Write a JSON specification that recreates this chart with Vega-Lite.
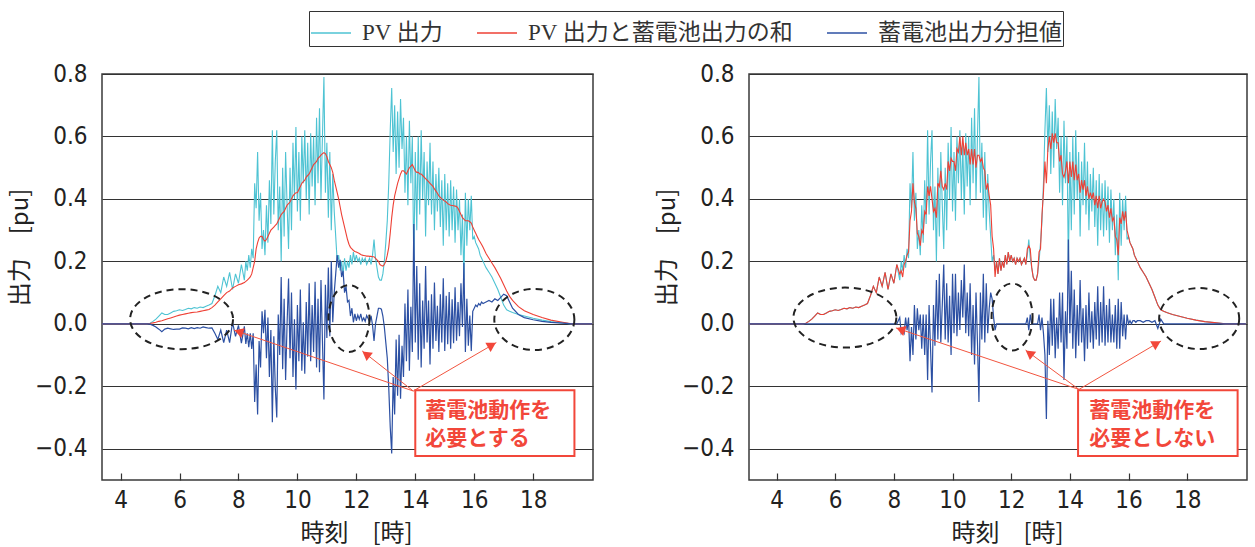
{
"$schema": "https://vega.github.io/schema/vega-lite/v6.json",
"padding": {"left": 7, "top": 10, "right": 2, "bottom": 0},
"background": "white",
"config": {
  "font": "Noto Sans CJK JP",
  "view": {"stroke": "#3a3a3a", "strokeWidth": 1.5},
  "axis": {"labelFont": "DejaVu Sans Condensed, Liberation Sans Narrow, sans-serif", "labelFontSize": 24, "labelColor": "#222", "titleFont": "Noto Sans CJK JP", "titleFontSize": 24, "titleFontWeight": "normal", "titleColor": "#222", "domain": false, "gridColor": "#333", "gridWidth": 1.2, "gridOpacity": 1}
},
"datasets": {
"d": [
{"t":3.0,"pv":0,"sA":0,"bA":0,"sB":0,"bB":0},
{"t":4.9,"pv":0,"sA":0,"bA":0,"sB":0,"bB":0},
{"t":5.0,"pv":0.002,"sA":0.001,"bA":-0.001,"sB":0.002,"bB":0},
{"t":5.1,"pv":0.008,"sA":0.003,"bA":-0.005,"sB":0.008,"bB":0},
{"t":5.2,"pv":0.015,"sA":0.005,"bA":-0.01,"sB":0.015,"bB":0},
{"t":5.3,"pv":0.025,"sA":0.008,"bA":-0.017,"sB":0.025,"bB":0},
{"t":5.4,"pv":0.035,"sA":0.01,"bA":-0.025,"sB":0.035,"bB":0},
{"t":5.5,"pv":0.03,"sA":0.013,"bA":-0.017,"sB":0.03,"bB":0},
{"t":5.6,"pv":0.03,"sA":0.016,"bA":-0.014,"sB":0.03,"bB":0},
{"t":5.7,"pv":0.035,"sA":0.019,"bA":-0.016,"sB":0.035,"bB":0},
{"t":5.8,"pv":0.04,"sA":0.022,"bA":-0.018,"sB":0.04,"bB":0},
{"t":5.9,"pv":0.042,"sA":0.025,"bA":-0.017,"sB":0.042,"bB":0},
{"t":6.0,"pv":0.045,"sA":0.028,"bA":-0.017,"sB":0.045,"bB":0},
{"t":6.1,"pv":0.043,"sA":0.03,"bA":-0.013,"sB":0.043,"bB":0},
{"t":6.2,"pv":0.046,"sA":0.032,"bA":-0.014,"sB":0.046,"bB":0},
{"t":6.3,"pv":0.05,"sA":0.034,"bA":-0.016,"sB":0.05,"bB":0},
{"t":6.4,"pv":0.048,"sA":0.036,"bA":-0.012,"sB":0.048,"bB":0},
{"t":6.5,"pv":0.052,"sA":0.037,"bA":-0.015,"sB":0.052,"bB":0},
{"t":6.6,"pv":0.05,"sA":0.038,"bA":-0.012,"sB":0.05,"bB":0},
{"t":6.7,"pv":0.054,"sA":0.04,"bA":-0.014,"sB":0.054,"bB":0},
{"t":6.8,"pv":0.052,"sA":0.042,"bA":-0.01,"sB":0.052,"bB":0},
{"t":6.9,"pv":0.056,"sA":0.044,"bA":-0.012,"sB":0.056,"bB":0},
{"t":7.0,"pv":0.06,"sA":0.046,"bA":-0.014,"sB":0.06,"bB":0},
{"t":7.1,"pv":0.065,"sA":0.052,"bA":-0.013,"sB":0.065,"bB":0},
{"t":7.2,"pv":0.09,"sA":0.06,"bA":-0.03,"sB":0.09,"bB":0},
{"t":7.3,"pv":0.12,"sA":0.07,"bA":-0.05,"sB":0.12,"bB":0},
{"t":7.4,"pv":0.10,"sA":0.08,"bA":-0.02,"sB":0.10,"bB":0},
{"t":7.5,"pv":0.15,"sA":0.09,"bA":-0.06,"sB":0.15,"bB":0},
{"t":7.6,"pv":0.12,"sA":0.10,"bA":-0.02,"sB":0.12,"bB":0},
{"t":7.7,"pv":0.165,"sA":0.105,"bA":-0.06,"sB":0.165,"bB":0},
{"t":7.8,"pv":0.11,"sA":0.115,"bA":0.005,"sB":0.11,"bB":0},
{"t":7.9,"pv":0.16,"sA":0.12,"bA":-0.04,"sB":0.16,"bB":0},
{"t":8.0,"pv":0.13,"sA":0.125,"bA":-0.005,"sB":0.13,"bB":0},
{"t":8.1,"pv":0.19,"sA":0.128,"bA":-0.062,"sB":0.19,"bB":0},
{"t":8.2,"pv":0.14,"sA":0.132,"bA":-0.008,"sB":0.16,"bB":0.02},
{"t":8.25,"pv":0.20,"sA":0.136,"bA":-0.064,"sB":0.17,"bB":-0.03},
{"t":8.30,"pv":0.17,"sA":0.14,"bA":-0.03,"sB":0.15,"bB":-0.02},
{"t":8.35,"pv":0.22,"sA":0.145,"bA":-0.075,"sB":0.19,"bB":-0.03},
{"t":8.40,"pv":0.18,"sA":0.15,"bA":-0.03,"sB":0.20,"bB":0.02},
{"t":8.45,"pv":0.24,"sA":0.16,"bA":-0.08,"sB":0.22,"bB":-0.02},
{"t":8.50,"pv":0.21,"sA":0.18,"bA":-0.03,"sB":0.23,"bB":0.02},
{"t":8.55,"pv":0.45,"sA":0.20,"bA":-0.25,"sB":0.33,"bB":-0.12},
{"t":8.60,"pv":0.37,"sA":0.24,"bA":-0.13,"sB":0.36,"bB":-0.01},
{"t":8.65,"pv":0.55,"sA":0.26,"bA":-0.29,"sB":0.45,"bB":-0.10},
{"t":8.70,"pv":0.33,"sA":0.275,"bA":-0.055,"sB":0.39,"bB":0.06},
{"t":8.75,"pv":0.42,"sA":0.28,"bA":-0.14,"sB":0.37,"bB":-0.05},
{"t":8.80,"pv":0.24,"sA":0.28,"bA":0.04,"sB":0.29,"bB":0.05},
{"t":8.85,"pv":0.30,"sA":0.27,"bA":-0.03,"sB":0.28,"bB":-0.02},
{"t":8.90,"pv":0.22,"sA":0.265,"bA":0.045,"sB":0.25,"bB":0.03},
{"t":8.95,"pv":0.38,"sA":0.27,"bA":-0.11,"sB":0.30,"bB":-0.08},
{"t":9.00,"pv":0.26,"sA":0.28,"bA":0.02,"sB":0.29,"bB":0.03},
{"t":9.05,"pv":0.46,"sA":0.29,"bA":-0.17,"sB":0.36,"bB":-0.10},
{"t":9.10,"pv":0.32,"sA":0.30,"bA":-0.02,"sB":0.35,"bB":0.03},
{"t":9.15,"pv":0.62,"sA":0.305,"bA":-0.315,"sB":0.44,"bB":-0.18},
{"t":9.20,"pv":0.35,"sA":0.31,"bA":-0.04,"sB":0.41,"bB":0.06},
{"t":9.25,"pv":0.52,"sA":0.315,"bA":-0.205,"sB":0.44,"bB":-0.08},
{"t":9.30,"pv":0.62,"sA":0.32,"bA":-0.30,"sB":0.40,"bB":-0.22},
{"t":9.35,"pv":0.30,"sA":0.33,"bA":0.03,"sB":0.36,"bB":0.06},
{"t":9.40,"pv":0.44,"sA":0.34,"bA":-0.10,"sB":0.37,"bB":-0.07},
{"t":9.45,"pv":0.20,"sA":0.35,"bA":0.15,"sB":0.34,"bB":0.14},
{"t":9.50,"pv":0.50,"sA":0.355,"bA":-0.145,"sB":0.45,"bB":-0.05},
{"t":9.55,"pv":0.28,"sA":0.36,"bA":0.08,"sB":0.44,"bB":0.16},
{"t":9.60,"pv":0.55,"sA":0.37,"bA":-0.18,"sB":0.49,"bB":-0.06},
{"t":9.65,"pv":0.38,"sA":0.38,"bA":0.0,"sB":0.44,"bB":0.06},
{"t":9.70,"pv":0.24,"sA":0.385,"bA":0.145,"sB":0.43,"bB":0.19},
{"t":9.75,"pv":0.50,"sA":0.39,"bA":-0.11,"sB":0.45,"bB":-0.05},
{"t":9.80,"pv":0.30,"sA":0.40,"bA":0.10,"sB":0.43,"bB":0.13},
{"t":9.85,"pv":0.58,"sA":0.41,"bA":-0.17,"sB":0.52,"bB":-0.06},
{"t":9.90,"pv":0.40,"sA":0.415,"bA":0.015,"sB":0.49,"bB":0.09},
{"t":9.95,"pv":0.63,"sA":0.42,"bA":-0.21,"sB":0.53,"bB":-0.10},
{"t":10.00,"pv":0.36,"sA":0.42,"bA":0.06,"sB":0.52,"bB":0.16},
{"t":10.05,"pv":0.55,"sA":0.43,"bA":-0.12,"sB":0.52,"bB":-0.03},
{"t":10.10,"pv":0.33,"sA":0.44,"bA":0.11,"sB":0.49,"bB":0.16},
{"t":10.15,"pv":0.60,"sA":0.45,"bA":-0.15,"sB":0.56,"bB":-0.04},
{"t":10.20,"pv":0.45,"sA":0.455,"bA":0.005,"sB":0.55,"bB":0.10},
{"t":10.25,"pv":0.62,"sA":0.46,"bA":-0.16,"sB":0.60,"bB":-0.02},
{"t":10.30,"pv":0.40,"sA":0.47,"bA":0.07,"sB":0.54,"bB":0.14},
{"t":10.35,"pv":0.58,"sA":0.475,"bA":-0.105,"sB":0.60,"bB":0.02},
{"t":10.40,"pv":0.35,"sA":0.48,"bA":0.13,"sB":0.54,"bB":0.19},
{"t":10.45,"pv":0.61,"sA":0.49,"bA":-0.12,"sB":0.58,"bB":-0.03},
{"t":10.50,"pv":0.44,"sA":0.50,"bA":0.06,"sB":0.54,"bB":0.10},
{"t":10.55,"pv":0.60,"sA":0.51,"bA":-0.09,"sB":0.56,"bB":-0.04},
{"t":10.60,"pv":0.38,"sA":0.515,"bA":0.135,"sB":0.51,"bB":0.13},
{"t":10.65,"pv":0.66,"sA":0.52,"bA":-0.14,"sB":0.56,"bB":-0.10},
{"t":10.70,"pv":0.45,"sA":0.53,"bA":0.08,"sB":0.51,"bB":0.06},
{"t":10.75,"pv":0.69,"sA":0.535,"bA":-0.155,"sB":0.56,"bB":-0.13},
{"t":10.80,"pv":0.40,"sA":0.54,"bA":0.14,"sB":0.50,"bB":0.10},
{"t":10.85,"pv":0.60,"sA":0.545,"bA":-0.055,"sB":0.54,"bB":-0.06},
{"t":10.90,"pv":0.79,"sA":0.548,"bA":-0.242,"sB":0.54,"bB":-0.25},
{"t":10.95,"pv":0.42,"sA":0.545,"bA":0.125,"sB":0.52,"bB":0.10},
{"t":11.00,"pv":0.58,"sA":0.535,"bA":-0.045,"sB":0.53,"bB":-0.05},
{"t":11.05,"pv":0.34,"sA":0.52,"bA":0.18,"sB":0.50,"bB":0.16},
{"t":11.10,"pv":0.55,"sA":0.51,"bA":-0.04,"sB":0.49,"bB":-0.06},
{"t":11.15,"pv":0.30,"sA":0.50,"bA":0.20,"sB":0.43,"bB":0.13},
{"t":11.20,"pv":0.48,"sA":0.485,"bA":0.005,"sB":0.45,"bB":-0.03},
{"t":11.25,"pv":0.36,"sA":0.46,"bA":0.10,"sB":0.41,"bB":0.05},
{"t":11.30,"pv":0.28,"sA":0.44,"bA":0.16,"sB":0.38,"bB":0.10},
{"t":11.35,"pv":0.20,"sA":0.42,"bA":0.22,"sB":0.28,"bB":0.08},
{"t":11.40,"pv":0.22,"sA":0.40,"bA":0.18,"sB":0.24,"bB":0.02},
{"t":11.45,"pv":0.17,"sA":0.375,"bA":0.205,"sB":0.15,"bB":-0.02},
{"t":11.50,"pv":0.20,"sA":0.35,"bA":0.15,"sB":0.20,"bB":0},
{"t":11.55,"pv":0.16,"sA":0.33,"bA":0.17,"sB":0.16,"bB":0},
{"t":11.60,"pv":0.21,"sA":0.31,"bA":0.10,"sB":0.21,"bB":0},
{"t":11.65,"pv":0.17,"sA":0.29,"bA":0.12,"sB":0.17,"bB":0},
{"t":11.70,"pv":0.20,"sA":0.27,"bA":0.07,"sB":0.20,"bB":0},
{"t":11.75,"pv":0.18,"sA":0.255,"bA":0.075,"sB":0.18,"bB":0},
{"t":11.80,"pv":0.22,"sA":0.245,"bA":0.025,"sB":0.22,"bB":0},
{"t":11.85,"pv":0.19,"sA":0.24,"bA":0.05,"sB":0.19,"bB":0},
{"t":11.90,"pv":0.23,"sA":0.235,"bA":0.005,"sB":0.23,"bB":0},
{"t":11.95,"pv":0.20,"sA":0.232,"bA":0.032,"sB":0.20,"bB":0},
{"t":12.00,"pv":0.22,"sA":0.23,"bA":0.01,"sB":0.22,"bB":0},
{"t":12.05,"pv":0.20,"sA":0.228,"bA":0.028,"sB":0.20,"bB":0},
{"t":12.10,"pv":0.21,"sA":0.225,"bA":0.015,"sB":0.21,"bB":0},
{"t":12.15,"pv":0.19,"sA":0.222,"bA":0.032,"sB":0.19,"bB":0},
{"t":12.20,"pv":0.21,"sA":0.22,"bA":0.01,"sB":0.21,"bB":0},
{"t":12.25,"pv":0.20,"sA":0.219,"bA":0.019,"sB":0.20,"bB":0},
{"t":12.30,"pv":0.21,"sA":0.218,"bA":0.008,"sB":0.21,"bB":0},
{"t":12.35,"pv":0.19,"sA":0.217,"bA":0.027,"sB":0.19,"bB":0},
{"t":12.40,"pv":0.20,"sA":0.217,"bA":0.017,"sB":0.20,"bB":0},
{"t":12.45,"pv":0.21,"sA":0.216,"bA":0.006,"sB":0.21,"bB":0},
{"t":12.50,"pv":0.19,"sA":0.216,"bA":0.026,"sB":0.19,"bB":0},
{"t":12.55,"pv":0.22,"sA":0.215,"bA":-0.005,"sB":0.24,"bB":0.02},
{"t":12.60,"pv":0.27,"sA":0.215,"bA":-0.055,"sB":0.25,"bB":-0.02},
{"t":12.65,"pv":0.21,"sA":0.21,"bA":0.0,"sB":0.24,"bB":0.03},
{"t":12.70,"pv":0.18,"sA":0.205,"bA":0.025,"sB":0.18,"bB":0},
{"t":12.75,"pv":0.15,"sA":0.20,"bA":0.05,"sB":0.15,"bB":0},
{"t":12.80,"pv":0.14,"sA":0.19,"bA":0.05,"sB":0.14,"bB":0},
{"t":12.85,"pv":0.14,"sA":0.187,"bA":0.047,"sB":0.14,"bB":0},
{"t":12.90,"pv":0.16,"sA":0.185,"bA":0.025,"sB":0.16,"bB":0},
{"t":12.95,"pv":0.20,"sA":0.19,"bA":-0.01,"sB":0.23,"bB":0.03},
{"t":13.00,"pv":0.26,"sA":0.20,"bA":-0.06,"sB":0.24,"bB":-0.02},
{"t":13.05,"pv":0.33,"sA":0.22,"bA":-0.11,"sB":0.35,"bB":0.02},
{"t":13.10,"pv":0.45,"sA":0.245,"bA":-0.205,"sB":0.42,"bB":-0.03},
{"t":13.15,"pv":0.62,"sA":0.29,"bA":-0.33,"sB":0.52,"bB":-0.10},
{"t":13.20,"pv":0.755,"sA":0.34,"bA":-0.415,"sB":0.45,"bB":-0.305},
{"t":13.25,"pv":0.55,"sA":0.38,"bA":-0.17,"sB":0.56,"bB":0.01},
{"t":13.30,"pv":0.70,"sA":0.41,"bA":-0.29,"sB":0.60,"bB":-0.10},
{"t":13.35,"pv":0.48,"sA":0.43,"bA":-0.05,"sB":0.56,"bB":0.08},
{"t":13.40,"pv":0.68,"sA":0.45,"bA":-0.23,"sB":0.61,"bB":-0.07},
{"t":13.45,"pv":0.50,"sA":0.465,"bA":-0.035,"sB":0.58,"bB":0.08},
{"t":13.50,"pv":0.72,"sA":0.48,"bA":-0.24,"sB":0.61,"bB":-0.11},
{"t":13.55,"pv":0.56,"sA":0.49,"bA":-0.07,"sB":0.58,"bB":0.02},
{"t":13.60,"pv":0.66,"sA":0.49,"bA":-0.17,"sB":0.58,"bB":-0.08},
{"t":13.65,"pv":0.42,"sA":0.485,"bA":0.065,"sB":0.52,"bB":0.10},
{"t":13.70,"pv":0.60,"sA":0.48,"bA":-0.12,"sB":0.54,"bB":-0.06},
{"t":13.75,"pv":0.38,"sA":0.49,"bA":0.11,"sB":0.48,"bB":0.10},
{"t":13.80,"pv":0.65,"sA":0.50,"bA":-0.15,"sB":0.47,"bB":-0.18},
{"t":13.85,"pv":0.45,"sA":0.505,"bA":0.055,"sB":0.49,"bB":0.04},
{"t":13.90,"pv":0.60,"sA":0.51,"bA":-0.09,"sB":0.52,"bB":-0.08},
{"t":13.95,"pv":0.18,"sA":0.50,"bA":0.32,"sB":0.45,"bB":0.27},
{"t":14.00,"pv":0.55,"sA":0.49,"bA":-0.06,"sB":0.52,"bB":-0.03},
{"t":14.05,"pv":0.30,"sA":0.485,"bA":0.185,"sB":0.47,"bB":0.17},
{"t":14.10,"pv":0.60,"sA":0.485,"bA":-0.115,"sB":0.52,"bB":-0.08},
{"t":14.15,"pv":0.35,"sA":0.48,"bA":0.13,"sB":0.46,"bB":0.11},
{"t":14.20,"pv":0.62,"sA":0.48,"bA":-0.14,"sB":0.51,"bB":-0.11},
{"t":14.25,"pv":0.40,"sA":0.475,"bA":0.075,"sB":0.46,"bB":0.06},
{"t":14.30,"pv":0.55,"sA":0.47,"bA":-0.08,"sB":0.48,"bB":-0.07},
{"t":14.35,"pv":0.28,"sA":0.465,"bA":0.185,"sB":0.42,"bB":0.14},
{"t":14.40,"pv":0.52,"sA":0.46,"bA":-0.06,"sB":0.46,"bB":-0.06},
{"t":14.45,"pv":0.38,"sA":0.455,"bA":0.075,"sB":0.43,"bB":0.05},
{"t":14.50,"pv":0.58,"sA":0.45,"bA":-0.13,"sB":0.46,"bB":-0.12},
{"t":14.55,"pv":0.35,"sA":0.445,"bA":0.095,"sB":0.41,"bB":0.06},
{"t":14.60,"pv":0.52,"sA":0.44,"bA":-0.08,"sB":0.44,"bB":-0.08},
{"t":14.65,"pv":0.30,"sA":0.432,"bA":0.132,"sB":0.40,"bB":0.10},
{"t":14.70,"pv":0.48,"sA":0.425,"bA":-0.055,"sB":0.42,"bB":-0.06},
{"t":14.75,"pv":0.36,"sA":0.418,"bA":0.058,"sB":0.40,"bB":0.04},
{"t":14.80,"pv":0.50,"sA":0.41,"bA":-0.09,"sB":0.42,"bB":-0.08},
{"t":14.85,"pv":0.31,"sA":0.405,"bA":0.095,"sB":0.38,"bB":0.07},
{"t":14.90,"pv":0.46,"sA":0.40,"bA":-0.06,"sB":0.41,"bB":-0.05},
{"t":14.95,"pv":0.25,"sA":0.396,"bA":0.146,"sB":0.37,"bB":0.12},
{"t":15.00,"pv":0.48,"sA":0.393,"bA":-0.087,"sB":0.41,"bB":-0.07},
{"t":15.05,"pv":0.30,"sA":0.39,"bA":0.09,"sB":0.37,"bB":0.07},
{"t":15.10,"pv":0.45,"sA":0.385,"bA":-0.065,"sB":0.39,"bB":-0.06},
{"t":15.15,"pv":0.28,"sA":0.382,"bA":0.102,"sB":0.40,"bB":0.12},
{"t":15.20,"pv":0.46,"sA":0.38,"bA":-0.08,"sB":0.39,"bB":-0.07},
{"t":15.25,"pv":0.30,"sA":0.379,"bA":0.079,"sB":0.36,"bB":0.06},
{"t":15.30,"pv":0.44,"sA":0.378,"bA":-0.062,"sB":0.38,"bB":-0.06},
{"t":15.35,"pv":0.26,"sA":0.377,"bA":0.117,"sB":0.34,"bB":0.08},
{"t":15.40,"pv":0.43,"sA":0.376,"bA":-0.054,"sB":0.37,"bB":-0.06},
{"t":15.45,"pv":0.30,"sA":0.37,"bA":0.07,"sB":0.33,"bB":0.03},
{"t":15.50,"pv":0.40,"sA":0.36,"bA":-0.04,"sB":0.34,"bB":-0.06},
{"t":15.55,"pv":0.22,"sA":0.35,"bA":0.13,"sB":0.28,"bB":0.06},
{"t":15.60,"pv":0.35,"sA":0.34,"bA":-0.01,"sB":0.27,"bB":-0.08},
{"t":15.65,"pv":0.14,"sA":0.335,"bA":0.195,"sB":0.22,"bB":0.08},
{"t":15.70,"pv":0.42,"sA":0.33,"bA":-0.09,"sB":0.34,"bB":-0.08},
{"t":15.75,"pv":0.25,"sA":0.33,"bA":0.08,"sB":0.32,"bB":0.07},
{"t":15.80,"pv":0.40,"sA":0.33,"bA":-0.07,"sB":0.36,"bB":-0.04},
{"t":15.85,"pv":0.30,"sA":0.327,"bA":0.027,"sB":0.33,"bB":0.03},
{"t":15.90,"pv":0.41,"sA":0.323,"bA":-0.087,"sB":0.36,"bB":-0.05},
{"t":15.95,"pv":0.27,"sA":0.31,"bA":0.04,"sB":0.30,"bB":0.03},
{"t":16.00,"pv":0.28,"sA":0.30,"bA":0.05,"sB":0.28,"bB":0},
{"t":16.05,"pv":0.26,"sA":0.29,"bA":0.06,"sB":0.26,"bB":0.01},
{"t":16.10,"pv":0.25,"sA":0.28,"bA":0.055,"sB":0.25,"bB":0},
{"t":16.15,"pv":0.24,"sA":0.27,"bA":0.065,"sB":0.24,"bB":0.01},
{"t":16.20,"pv":0.22,"sA":0.262,"bA":0.06,"sB":0.22,"bB":0.01},
{"t":16.25,"pv":0.21,"sA":0.254,"bA":0.07,"sB":0.21,"bB":0.005},
{"t":16.30,"pv":0.20,"sA":0.245,"bA":0.065,"sB":0.20,"bB":0.01},
{"t":16.4,"pv":0.18,"sA":0.225,"bA":0.07,"sB":0.18,"bB":0.01},
{"t":16.5,"pv":0.165,"sA":0.21,"bA":0.075,"sB":0.165,"bB":0.005},
{"t":16.6,"pv":0.15,"sA":0.195,"bA":0.07,"sB":0.15,"bB":0.01},
{"t":16.7,"pv":0.13,"sA":0.18,"bA":0.08,"sB":0.13,"bB":0.01},
{"t":16.8,"pv":0.11,"sA":0.163,"bA":0.075,"sB":0.11,"bB":0.005},
{"t":16.9,"pv":0.085,"sA":0.145,"bA":0.085,"sB":0.085,"bB":0.01},
{"t":17.0,"pv":0.06,"sA":0.125,"bA":0.095,"sB":0.06,"bB":-0.015},
{"t":17.1,"pv":0.045,"sA":0.105,"bA":0.09,"sB":0.045,"bB":0.015},
{"t":17.2,"pv":0.04,"sA":0.088,"bA":0.07,"sB":0.04,"bB":0},
{"t":17.3,"pv":0.036,"sA":0.075,"bA":0.05,"sB":0.036,"bB":0},
{"t":17.5,"pv":0.03,"sA":0.055,"bA":0.03,"sB":0.03,"bB":0},
{"t":17.7,"pv":0.025,"sA":0.042,"bA":0.02,"sB":0.025,"bB":0},
{"t":18.0,"pv":0.018,"sA":0.03,"bA":0.013,"sB":0.018,"bB":0},
{"t":18.3,"pv":0.012,"sA":0.02,"bA":0.008,"sB":0.012,"bB":0},
{"t":18.6,"pv":0.007,"sA":0.012,"bA":0.005,"sB":0.007,"bB":0},
{"t":19.0,"pv":0.003,"sA":0.005,"bA":0.002,"sB":0.003,"bB":0},
{"t":19.3,"pv":0,"sA":0,"bA":0,"sB":0,"bB":0},
{"t":20.0,"pv":0,"sA":0,"bA":0,"sB":0,"bB":0}
],
"ell": [
{"p":"L","k":"a","t":6.07,"v":0.015},
{"p":"L","k":"b","t":11.75,"v":0.017},
{"p":"L","k":"c","t":18.04,"v":0.014},
{"p":"R","k":"a","t":6.33,"v":0.02},
{"p":"R","k":"b","t":12.03,"v":0.022},
{"p":"R","k":"c","t":18.41,"v":0.017}
],
"arr": [
{"p":"L","a":1,"t0":13.93,"v0":-0.215,"t1":7.85,"v1":-0.02,"th":8.01,"vh":-0.025},
{"p":"L","a":2,"t0":13.93,"v0":-0.215,"t1":12.2,"v1":-0.087,"th":12.33,"vh":-0.097},
{"p":"L","a":3,"t0":13.93,"v0":-0.215,"t1":16.75,"v1":-0.06,"th":16.6,"vh":-0.068},
{"p":"R","a":1,"t0":14.31,"v0":-0.21,"t1":8.07,"v1":-0.013,"th":8.23,"vh":-0.018},
{"p":"R","a":2,"t0":14.31,"v0":-0.21,"t1":12.49,"v1":-0.084,"th":12.62,"vh":-0.094},
{"p":"R","a":3,"t0":14.31,"v0":-0.21,"t1":17.11,"v1":-0.055,"th":16.96,"vh":-0.063}
],
"box": [
{"p":"L","t0":14.0,"t1":19.4,"v0":-0.213,"v1":-0.423},
{"p":"R","t0":14.28,"t1":19.72,"v0":-0.213,"v1":-0.423}
],
"lab": [
{"p":"L","t":14.34,"v":-0.278,"s":"蓄電池動作を"},
{"p":"L","t":14.34,"v":-0.37,"s":"必要とする"},
{"p":"R","t":14.66,"v":-0.278,"s":"蓄電池動作を"},
{"p":"R","t":14.66,"v":-0.37,"s":"必要としない"}
]
},
"spacing": 60,
"resolve": {"scale": {"x": "independent", "y": "independent", "color": "shared", "shape": "shared"}, "legend": {"color": "shared"}},
"hconcat": [
{
"width": 491, "height": 406,
"layer": [
{"data": {"name": "d"}, "mark": {"type": "line", "strokeWidth": 1.1, "clip": true},
 "encoding": {
  "x": {"field": "t", "type": "quantitative", "title": "時刻　[時]", "scale": {"domain": [3.37, 20.03], "nice": false, "zero": false}, "axis": {"values": [4,6,8,10,12,14,16,18], "grid": false, "tickSize": -7, "tickColor": "#333", "tickWidth": 1.2, "labelPadding": 15, "titlePadding": 9, "titleX": 254}},
  "y": {"field": "pv", "type": "quantitative", "title": "出力　[pu]", "scale": {"domain": [-0.5, 0.8], "nice": false, "zero": false}, "axis": {"values": [-0.4,-0.2,0,0.2,0.4,0.6,0.8], "format": ".1f", "grid": true, "ticks": false, "labelPadding": 15, "titlePadding": 2, "titleY": 173}},
  "color": {"datum": "PV 出力", "type": "nominal",
   "scale": {"domain": ["PV 出力", "PV 出力と蓄電池出力の和", "蓄電池出力分担値"], "range": ["#4EC3D3", "#EE4035", "#2C50A3"]},
   "legend": {"orient": "none", "legendX": 207, "legendY": -63, "direction": "horizontal", "title": null, "symbolType": "stroke", "symbolSize": 1600, "symbolStrokeWidth": 1.5, "labelFont": "Liberation Serif, Noto Sans CJK JP", "labelFontSize": 23, "labelColor": "#333", "labelOffset": 10, "labelLimit": 400, "columnPadding": 30, "padding": 1, "strokeColor": "#333", "fillColor": "white"}}
 }},
{"data": {"name": "d"}, "mark": {"type": "line", "strokeWidth": 1.1, "clip": true},
 "encoding": {"x": {"field": "t", "type": "quantitative", "title": "時刻　[時]"}, "y": {"field": "sA", "type": "quantitative", "title": "出力　[pu]"}, "color": {"datum": "PV 出力と蓄電池出力の和", "type": "nominal"}}},
{"data": {"name": "d"}, "mark": {"type": "line", "strokeWidth": 1.2, "clip": true},
 "encoding": {"x": {"field": "t", "type": "quantitative", "title": "時刻　[時]"}, "y": {"field": "bA", "type": "quantitative", "title": "出力　[pu]"}, "color": {"datum": "蓄電池出力分担値", "type": "nominal"}}},
{"data": {"name": "ell"}, "transform": [{"filter": "datum.p == 'L'"}],
 "mark": {"type": "point", "filled": false, "size": 10816, "stroke": "#222", "strokeWidth": 2, "strokeDash": [7, 5], "opacity": 1},
 "encoding": {"x": {"field": "t", "type": "quantitative", "title": "時刻　[時]"}, "y": {"field": "v", "type": "quantitative", "title": "出力　[pu]"},
  "shape": {"field": "k", "type": "nominal", "legend": null, "scale": {"domain": ["a","b","c"], "range": [
   "M0.99,0C0.99,0.319,0.547,0.577,0,0.577C-0.547,0.577,-0.99,0.319,-0.99,0C-0.99,-0.319,-0.547,-0.577,0,-0.577C0.547,-0.577,0.99,-0.319,0.99,0Z",
   "M0.394,0C0.394,0.356,0.218,0.644,0,0.644C-0.218,0.644,-0.394,0.356,-0.394,0C-0.394,-0.356,-0.218,-0.644,0,-0.644C0.218,-0.644,0.394,-0.356,0.394,0Z",
   "M0.77,0C0.77,0.324,0.425,0.587,0,0.587C-0.425,0.587,-0.77,0.324,-0.77,0C-0.77,-0.324,-0.425,-0.587,0,-0.587C0.425,-0.587,0.77,-0.324,0.77,0Z"]}}}},
{"data": {"name": "arr"}, "transform": [{"filter": "datum.p == 'L'"}], "mark": {"type": "rule", "color": "#F2553F", "strokeWidth": 1},
 "encoding": {"x": {"field": "t0", "type": "quantitative", "title": "時刻　[時]"}, "y": {"field": "v0", "type": "quantitative", "title": "出力　[pu]"}, "x2": {"field": "t1"}, "y2": {"field": "v1"}}},
{"data": {"name": "arr"}, "transform": [{"filter": "datum.p == 'L' && datum.a == 1"}], "mark": {"type": "point", "shape": "triangle-up", "filled": true, "size": 110, "angle": 289, "color": "#F2473A", "opacity": 1},
 "encoding": {"x": {"field": "th", "type": "quantitative", "title": "時刻　[時]"}, "y": {"field": "vh", "type": "quantitative", "title": "出力　[pu]"}}},
{"data": {"name": "arr"}, "transform": [{"filter": "datum.p == 'L' && datum.a == 2"}], "mark": {"type": "point", "shape": "triangle-up", "filled": true, "size": 110, "angle": 307, "color": "#F2473A", "opacity": 1},
 "encoding": {"x": {"field": "th", "type": "quantitative", "title": "時刻　[時]"}, "y": {"field": "vh", "type": "quantitative", "title": "出力　[pu]"}}},
{"data": {"name": "arr"}, "transform": [{"filter": "datum.p == 'L' && datum.a == 3"}], "mark": {"type": "point", "shape": "triangle-up", "filled": true, "size": 110, "angle": 60, "color": "#F2473A", "opacity": 1},
 "encoding": {"x": {"field": "th", "type": "quantitative", "title": "時刻　[時]"}, "y": {"field": "vh", "type": "quantitative", "title": "出力　[pu]"}}},
{"data": {"name": "box"}, "transform": [{"filter": "datum.p == 'L'"}], "mark": {"type": "rect", "fill": "white", "stroke": "#F2473A", "strokeWidth": 2},
 "encoding": {"x": {"field": "t0", "type": "quantitative", "title": "時刻　[時]"}, "x2": {"field": "t1"}, "y": {"field": "v0", "type": "quantitative", "title": "出力　[pu]"}, "y2": {"field": "v1"}}},
{"data": {"name": "lab"}, "transform": [{"filter": "datum.p == 'L'"}], "mark": {"type": "text", "align": "left", "baseline": "middle", "font": "Noto Sans CJK JP", "fontWeight": "bold", "fontSize": 21, "color": "#F2473A"},
 "encoding": {"x": {"field": "t", "type": "quantitative", "title": "時刻　[時]"}, "y": {"field": "v", "type": "quantitative", "title": "出力　[pu]"}, "text": {"field": "s"}}}
]
},
{
"width": 498, "height": 406,
"layer": [
{"data": {"name": "d"}, "mark": {"type": "line", "strokeWidth": 1.1, "clip": true},
 "encoding": {
  "x": {"field": "t", "type": "quantitative", "title": "時刻　[時]", "scale": {"domain": [3.06, 20.04], "nice": false, "zero": false}, "axis": {"values": [4,6,8,10,12,14,16,18], "grid": false, "tickSize": -7, "tickColor": "#333", "tickWidth": 1.2, "labelPadding": 15, "titlePadding": 9, "titleX": 258}},
  "y": {"field": "pv", "type": "quantitative", "title": "出力　[pu]", "scale": {"domain": [-0.5, 0.8], "nice": false, "zero": false}, "axis": {"values": [-0.4,-0.2,0,0.2,0.4,0.6,0.8], "format": ".1f", "grid": true, "ticks": false, "labelPadding": 15, "titlePadding": 2, "titleY": 173}},
  "color": {"datum": "PV 出力", "type": "nominal"}
 }},
{"data": {"name": "d"}, "mark": {"type": "line", "strokeWidth": 1.1, "clip": true},
 "encoding": {"x": {"field": "t", "type": "quantitative", "title": "時刻　[時]"}, "y": {"field": "sB", "type": "quantitative", "title": "出力　[pu]"}, "color": {"datum": "PV 出力と蓄電池出力の和", "type": "nominal"}}},
{"data": {"name": "d"}, "mark": {"type": "line", "strokeWidth": 1.2, "clip": true},
 "encoding": {"x": {"field": "t", "type": "quantitative", "title": "時刻　[時]"}, "y": {"field": "bB", "type": "quantitative", "title": "出力　[pu]"}, "color": {"datum": "蓄電池出力分担値", "type": "nominal"}}},
{"data": {"name": "ell"}, "transform": [{"filter": "datum.p == 'R'"}],
 "mark": {"type": "point", "filled": false, "size": 10816, "stroke": "#222", "strokeWidth": 2, "strokeDash": [7, 5], "opacity": 1},
 "encoding": {"x": {"field": "t", "type": "quantitative", "title": "時刻　[時]"}, "y": {"field": "v", "type": "quantitative", "title": "出力　[pu]"},
  "shape": {"field": "k", "type": "nominal", "legend": null}}},
{"data": {"name": "arr"}, "transform": [{"filter": "datum.p == 'R'"}], "mark": {"type": "rule", "color": "#F2553F", "strokeWidth": 1},
 "encoding": {"x": {"field": "t0", "type": "quantitative", "title": "時刻　[時]"}, "y": {"field": "v0", "type": "quantitative", "title": "出力　[pu]"}, "x2": {"field": "t1"}, "y2": {"field": "v1"}}},
{"data": {"name": "arr"}, "transform": [{"filter": "datum.p == 'R' && datum.a == 1"}], "mark": {"type": "point", "shape": "triangle-up", "filled": true, "size": 110, "angle": 289, "color": "#F2473A", "opacity": 1},
 "encoding": {"x": {"field": "th", "type": "quantitative", "title": "時刻　[時]"}, "y": {"field": "vh", "type": "quantitative", "title": "出力　[pu]"}}},
{"data": {"name": "arr"}, "transform": [{"filter": "datum.p == 'R' && datum.a == 2"}], "mark": {"type": "point", "shape": "triangle-up", "filled": true, "size": 110, "angle": 307, "color": "#F2473A", "opacity": 1},
 "encoding": {"x": {"field": "th", "type": "quantitative", "title": "時刻　[時]"}, "y": {"field": "vh", "type": "quantitative", "title": "出力　[pu]"}}},
{"data": {"name": "arr"}, "transform": [{"filter": "datum.p == 'R' && datum.a == 3"}], "mark": {"type": "point", "shape": "triangle-up", "filled": true, "size": 110, "angle": 60, "color": "#F2473A", "opacity": 1},
 "encoding": {"x": {"field": "th", "type": "quantitative", "title": "時刻　[時]"}, "y": {"field": "vh", "type": "quantitative", "title": "出力　[pu]"}}},
{"data": {"name": "box"}, "transform": [{"filter": "datum.p == 'R'"}], "mark": {"type": "rect", "fill": "white", "stroke": "#F2473A", "strokeWidth": 2},
 "encoding": {"x": {"field": "t0", "type": "quantitative", "title": "時刻　[時]"}, "x2": {"field": "t1"}, "y": {"field": "v0", "type": "quantitative", "title": "出力　[pu]"}, "y2": {"field": "v1"}}},
{"data": {"name": "lab"}, "transform": [{"filter": "datum.p == 'R'"}], "mark": {"type": "text", "align": "left", "baseline": "middle", "font": "Noto Sans CJK JP", "fontWeight": "bold", "fontSize": 21, "color": "#F2473A"},
 "encoding": {"x": {"field": "t", "type": "quantitative", "title": "時刻　[時]"}, "y": {"field": "v", "type": "quantitative", "title": "出力　[pu]"}, "text": {"field": "s"}}}
]
}
]
}
